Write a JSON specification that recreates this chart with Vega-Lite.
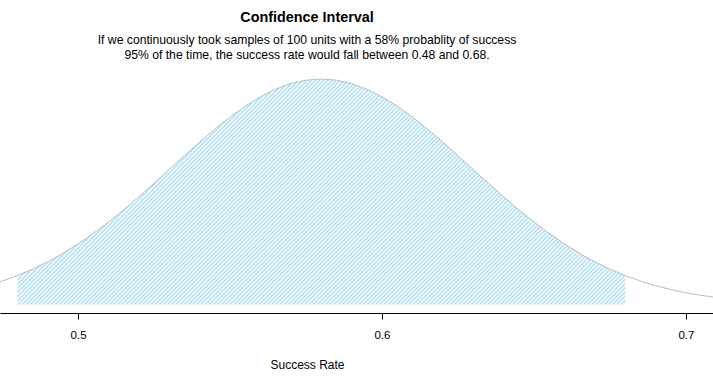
{
"$schema": "https://vega.github.io/schema/vega-lite/v6.json",
"width": 713, "height": 248,
"autosize": {"type": "none"},
"padding": {"left": 0, "right": 0, "top": 65, "bottom": 76},
"background": "white",
"config": {"view": {"stroke": null}, "font": "Liberation Sans"},
"title": {"text": "Confidence Interval", "subtitle": ["If we continuously took samples of 100 units with a 58% probablity of success", "95% of the time, the success rate would fall between 0.48 and 0.68."], "anchor": "middle", "dx": -49.5, "font": "Liberation Sans", "fontSize": 14.4, "fontWeight": "bold", "color": "black", "subtitleFont": "Liberation Sans", "subtitleFontSize": 12.2, "subtitleColor": "black", "subtitlePadding": 8, "subtitleLineHeight": 15, "offset": 3},
"data": {"values": [
{"x":0.470,"d":0.6745},{"x":0.475,"d":0.8410},{"x":0.480,"d":1.0378},{"x":0.485,"d":1.2680},{"x":0.490,"d":1.5331},{"x":0.495,"d":1.8348},{"x":0.500,"d":2.1730},{"x":0.505,"d":2.5476},{"x":0.510,"d":2.9564},{"x":0.515,"d":3.3960},{"x":0.520,"d":3.8607},{"x":0.525,"d":4.3443},{"x":0.530,"d":4.8387},{"x":0.535,"d":5.3341},{"x":0.540,"d":5.8202},{"x":0.545,"d":6.2858},{"x":0.550,"d":6.7197},{"x":0.555,"d":7.1098},{"x":0.560,"d":7.4459},{"x":0.565,"d":7.7182},{"x":0.570,"d":7.9187},{"x":0.575,"d":8.0416},{"x":0.580,"d":8.0830},{"x":0.585,"d":8.0416},{"x":0.590,"d":7.9187},{"x":0.595,"d":7.7182},{"x":0.600,"d":7.4459},{"x":0.605,"d":7.1098},{"x":0.610,"d":6.7197},{"x":0.615,"d":6.2858},{"x":0.620,"d":5.8202},{"x":0.625,"d":5.3341},{"x":0.630,"d":4.8387},{"x":0.635,"d":4.3443},{"x":0.640,"d":3.8607},{"x":0.645,"d":3.3960},{"x":0.650,"d":2.9564},{"x":0.655,"d":2.5476},{"x":0.660,"d":2.1730},{"x":0.665,"d":1.8348},{"x":0.670,"d":1.5331},{"x":0.675,"d":1.2680},{"x":0.680,"d":1.0378},{"x":0.685,"d":0.8410},{"x":0.690,"d":0.6745},{"x":0.695,"d":0.5355},{"x":0.700,"d":0.4207},{"x":0.705,"d":0.3272},{"x":0.710,"d":0.2519}
]},
"encoding": {
"x": {"field": "x", "type": "quantitative", "scale": {"domain": [0.4743, 0.7089], "nice": false, "zero": false},
 "axis": {"values": [0.5, 0.6, 0.7], "format": ".1f", "grid": false, "domainColor": "black", "domainWidth": 1, "tickColor": "black", "tickWidth": 1, "tickSize": 6, "labelPadding": 10, "labelFont": "Liberation Sans", "labelFontSize": 11.5, "labelColor": "black", "title": "Success Rate", "titleFont": "Liberation Sans", "titleFontSize": 12, "titleFontWeight": "normal", "titleColor": "black", "titleX": 307, "titleY": 51, "titleBaseline": "middle", "titleAnchor": "middle", "titleAlign": "center"}},
"y": {"field": "d", "type": "quantitative", "scale": {"domain": [-0.3047, 8.5848], "nice": false, "zero": false}, "axis": null}
},
"layer": [
{"transform": [{"filter": "datum.x > 0.4799 && datum.x < 0.6801"}],
 "mark": {"type": "area", "fill": {"gradient": "linear", "x1": 0, "y1": 0, "x2": 1.2049, "y2": 0.4439, "stops": [
{"offset":0.23,"color":"#abddf1"},{"offset":0.2325,"color":"#fff"},{"offset":0.235,"color":"#abddf1"},{"offset":0.2375,"color":"#fff"},
{"offset":0.24,"color":"#abddf1"},{"offset":0.2425,"color":"#fff"},{"offset":0.245,"color":"#abddf1"},{"offset":0.2475,"color":"#fff"},
{"offset":0.25,"color":"#abddf1"},{"offset":0.2525,"color":"#fff"},{"offset":0.255,"color":"#abddf1"},{"offset":0.2575,"color":"#fff"},
{"offset":0.26,"color":"#abddf1"},{"offset":0.2625,"color":"#fff"},{"offset":0.265,"color":"#abddf1"},{"offset":0.2675,"color":"#fff"},
{"offset":0.27,"color":"#abddf1"},{"offset":0.2725,"color":"#fff"},{"offset":0.275,"color":"#abddf1"},{"offset":0.2775,"color":"#fff"},
{"offset":0.28,"color":"#abddf1"},{"offset":0.2825,"color":"#fff"},{"offset":0.285,"color":"#abddf1"},{"offset":0.2875,"color":"#fff"},
{"offset":0.29,"color":"#abddf1"},{"offset":0.2925,"color":"#fff"},{"offset":0.295,"color":"#abddf1"},{"offset":0.2975,"color":"#fff"},
{"offset":0.30,"color":"#abddf1"},{"offset":0.3025,"color":"#fff"},{"offset":0.305,"color":"#abddf1"},{"offset":0.3075,"color":"#fff"},
{"offset":0.31,"color":"#abddf1"},{"offset":0.3125,"color":"#fff"},{"offset":0.315,"color":"#abddf1"},{"offset":0.3175,"color":"#fff"},
{"offset":0.32,"color":"#abddf1"},{"offset":0.3225,"color":"#fff"},{"offset":0.325,"color":"#abddf1"},{"offset":0.3275,"color":"#fff"},
{"offset":0.33,"color":"#abddf1"},{"offset":0.3325,"color":"#fff"},{"offset":0.335,"color":"#abddf1"},{"offset":0.3375,"color":"#fff"},
{"offset":0.34,"color":"#abddf1"},{"offset":0.3425,"color":"#fff"},{"offset":0.345,"color":"#abddf1"},{"offset":0.3475,"color":"#fff"},
{"offset":0.35,"color":"#abddf1"},{"offset":0.3525,"color":"#fff"},{"offset":0.355,"color":"#abddf1"},{"offset":0.3575,"color":"#fff"},
{"offset":0.36,"color":"#abddf1"},{"offset":0.3625,"color":"#fff"},{"offset":0.365,"color":"#abddf1"},{"offset":0.3675,"color":"#fff"},
{"offset":0.37,"color":"#abddf1"},{"offset":0.3725,"color":"#fff"},{"offset":0.375,"color":"#abddf1"},{"offset":0.3775,"color":"#fff"},
{"offset":0.38,"color":"#abddf1"},{"offset":0.3825,"color":"#fff"},{"offset":0.385,"color":"#abddf1"},{"offset":0.3875,"color":"#fff"},
{"offset":0.39,"color":"#abddf1"},{"offset":0.3925,"color":"#fff"},{"offset":0.395,"color":"#abddf1"},{"offset":0.3975,"color":"#fff"},
{"offset":0.40,"color":"#abddf1"},{"offset":0.4025,"color":"#fff"},{"offset":0.405,"color":"#abddf1"},{"offset":0.4075,"color":"#fff"},
{"offset":0.41,"color":"#abddf1"},{"offset":0.4125,"color":"#fff"},{"offset":0.415,"color":"#abddf1"},{"offset":0.4175,"color":"#fff"},
{"offset":0.42,"color":"#abddf1"},{"offset":0.4225,"color":"#fff"},{"offset":0.425,"color":"#abddf1"},{"offset":0.4275,"color":"#fff"},
{"offset":0.43,"color":"#abddf1"},{"offset":0.4325,"color":"#fff"},{"offset":0.435,"color":"#abddf1"},{"offset":0.4375,"color":"#fff"},
{"offset":0.44,"color":"#abddf1"},{"offset":0.4425,"color":"#fff"},{"offset":0.445,"color":"#abddf1"},{"offset":0.4475,"color":"#fff"},
{"offset":0.45,"color":"#abddf1"},{"offset":0.4525,"color":"#fff"},{"offset":0.455,"color":"#abddf1"},{"offset":0.4575,"color":"#fff"},
{"offset":0.46,"color":"#abddf1"},{"offset":0.4625,"color":"#fff"},{"offset":0.465,"color":"#abddf1"},{"offset":0.4675,"color":"#fff"},
{"offset":0.47,"color":"#abddf1"},{"offset":0.4725,"color":"#fff"},{"offset":0.475,"color":"#abddf1"},{"offset":0.4775,"color":"#fff"},
{"offset":0.48,"color":"#abddf1"},{"offset":0.4825,"color":"#fff"},{"offset":0.485,"color":"#abddf1"},{"offset":0.4875,"color":"#fff"},
{"offset":0.49,"color":"#abddf1"},{"offset":0.4925,"color":"#fff"},{"offset":0.495,"color":"#abddf1"},{"offset":0.4975,"color":"#fff"},
{"offset":0.50,"color":"#abddf1"},{"offset":0.5025,"color":"#fff"},{"offset":0.505,"color":"#abddf1"},{"offset":0.5075,"color":"#fff"},
{"offset":0.51,"color":"#abddf1"},{"offset":0.5125,"color":"#fff"},{"offset":0.515,"color":"#abddf1"},{"offset":0.5175,"color":"#fff"},
{"offset":0.52,"color":"#abddf1"},{"offset":0.5225,"color":"#fff"},{"offset":0.525,"color":"#abddf1"},{"offset":0.5275,"color":"#fff"},
{"offset":0.53,"color":"#abddf1"},{"offset":0.5325,"color":"#fff"},{"offset":0.535,"color":"#abddf1"},{"offset":0.5375,"color":"#fff"},
{"offset":0.54,"color":"#abddf1"},{"offset":0.5425,"color":"#fff"},{"offset":0.545,"color":"#abddf1"},{"offset":0.5475,"color":"#fff"},
{"offset":0.55,"color":"#abddf1"},{"offset":0.5525,"color":"#fff"},{"offset":0.555,"color":"#abddf1"},{"offset":0.5575,"color":"#fff"},
{"offset":0.56,"color":"#abddf1"},{"offset":0.5625,"color":"#fff"},{"offset":0.565,"color":"#abddf1"},{"offset":0.5675,"color":"#fff"},
{"offset":0.57,"color":"#abddf1"},{"offset":0.5725,"color":"#fff"},{"offset":0.575,"color":"#abddf1"},{"offset":0.5775,"color":"#fff"},
{"offset":0.58,"color":"#abddf1"},{"offset":0.5825,"color":"#fff"},{"offset":0.585,"color":"#abddf1"},{"offset":0.5875,"color":"#fff"},
{"offset":0.59,"color":"#abddf1"},{"offset":0.5925,"color":"#fff"},{"offset":0.595,"color":"#abddf1"},{"offset":0.5975,"color":"#fff"},
{"offset":0.60,"color":"#abddf1"},{"offset":0.6025,"color":"#fff"},{"offset":0.605,"color":"#abddf1"},{"offset":0.6075,"color":"#fff"},
{"offset":0.61,"color":"#abddf1"},{"offset":0.6125,"color":"#fff"},{"offset":0.615,"color":"#abddf1"},{"offset":0.6175,"color":"#fff"},
{"offset":0.62,"color":"#abddf1"},{"offset":0.6225,"color":"#fff"},{"offset":0.625,"color":"#abddf1"},{"offset":0.6275,"color":"#fff"},
{"offset":0.63,"color":"#abddf1"},{"offset":0.6325,"color":"#fff"},{"offset":0.635,"color":"#abddf1"},{"offset":0.6375,"color":"#fff"},
{"offset":0.64,"color":"#abddf1"},{"offset":0.6425,"color":"#fff"},{"offset":0.645,"color":"#abddf1"},{"offset":0.6475,"color":"#fff"},
{"offset":0.65,"color":"#abddf1"},{"offset":0.6525,"color":"#fff"},{"offset":0.655,"color":"#abddf1"},{"offset":0.6575,"color":"#fff"},
{"offset":0.66,"color":"#abddf1"},{"offset":0.6625,"color":"#fff"},{"offset":0.665,"color":"#abddf1"},{"offset":0.6675,"color":"#fff"},
{"offset":0.67,"color":"#abddf1"},{"offset":0.6725,"color":"#fff"},{"offset":0.675,"color":"#abddf1"},{"offset":0.6775,"color":"#fff"},
{"offset":0.68,"color":"#abddf1"},{"offset":0.6825,"color":"#fff"},{"offset":0.685,"color":"#abddf1"},{"offset":0.6875,"color":"#fff"},
{"offset":0.69,"color":"#abddf1"},{"offset":0.6925,"color":"#fff"},{"offset":0.695,"color":"#abddf1"},{"offset":0.6975,"color":"#fff"},
{"offset":0.70,"color":"#abddf1"},{"offset":0.7025,"color":"#fff"},{"offset":0.705,"color":"#abddf1"},{"offset":0.7075,"color":"#fff"},
{"offset":0.71,"color":"#abddf1"},{"offset":0.7125,"color":"#fff"},{"offset":0.715,"color":"#abddf1"},{"offset":0.7175,"color":"#fff"},
{"offset":0.72,"color":"#abddf1"},{"offset":0.7225,"color":"#fff"},{"offset":0.725,"color":"#abddf1"},{"offset":0.7275,"color":"#fff"},
{"offset":0.73,"color":"#abddf1"},{"offset":0.7325,"color":"#fff"},{"offset":0.735,"color":"#abddf1"},{"offset":0.7375,"color":"#fff"},
{"offset":0.74,"color":"#abddf1"},{"offset":0.7425,"color":"#fff"},{"offset":0.745,"color":"#abddf1"},{"offset":0.7475,"color":"#fff"},
{"offset":0.75,"color":"#abddf1"},{"offset":0.7525,"color":"#fff"},{"offset":0.755,"color":"#abddf1"},{"offset":0.7575,"color":"#fff"},
{"offset":0.76,"color":"#abddf1"},{"offset":0.7625,"color":"#fff"},{"offset":0.765,"color":"#abddf1"},{"offset":0.7675,"color":"#fff"},
{"offset":0.77,"color":"#abddf1"},{"offset":0.7725,"color":"#fff"},{"offset":0.775,"color":"#abddf1"},{"offset":0.7775,"color":"#fff"},
{"offset":0.78,"color":"#abddf1"},{"offset":0.7825,"color":"#fff"},{"offset":0.785,"color":"#abddf1"},{"offset":0.7875,"color":"#fff"},
{"offset":0.79,"color":"#abddf1"},{"offset":0.7925,"color":"#fff"},{"offset":0.795,"color":"#abddf1"},{"offset":0.7975,"color":"#fff"},
{"offset":0.80,"color":"#abddf1"},{"offset":0.8025,"color":"#fff"},{"offset":0.805,"color":"#abddf1"},{"offset":0.8075,"color":"#fff"},
{"offset":0.81,"color":"#abddf1"},{"offset":0.8125,"color":"#fff"},{"offset":0.815,"color":"#abddf1"},{"offset":0.8175,"color":"#fff"},
{"offset":0.82,"color":"#abddf1"},{"offset":0.8225,"color":"#fff"},{"offset":0.825,"color":"#abddf1"},{"offset":0.8275,"color":"#fff"},
{"offset":0.83,"color":"#abddf1"},{"offset":0.8325,"color":"#fff"},{"offset":0.835,"color":"#abddf1"},{"offset":0.8375,"color":"#fff"},
{"offset":0.84,"color":"#abddf1"},{"offset":0.8425,"color":"#fff"},{"offset":0.845,"color":"#abddf1"},{"offset":0.8475,"color":"#fff"},
{"offset":0.85,"color":"#abddf1"},{"offset":0.8525,"color":"#fff"},{"offset":0.855,"color":"#abddf1"},{"offset":0.8575,"color":"#fff"},
{"offset":0.86,"color":"#abddf1"},{"offset":0.8625,"color":"#fff"},{"offset":0.865,"color":"#abddf1"},{"offset":0.8675,"color":"#fff"},
{"offset":0.87,"color":"#abddf1"},{"offset":0.8725,"color":"#fff"},{"offset":0.875,"color":"#abddf1"},{"offset":0.8775,"color":"#fff"},
{"offset":0.88,"color":"#abddf1"},{"offset":0.8825,"color":"#fff"},{"offset":0.885,"color":"#abddf1"},{"offset":0.8875,"color":"#fff"},
{"offset":0.89,"color":"#abddf1"},{"offset":0.8925,"color":"#fff"},{"offset":0.895,"color":"#abddf1"},{"offset":0.8975,"color":"#fff"},
{"offset":0.90,"color":"#abddf1"},{"offset":0.9025,"color":"#fff"},{"offset":0.905,"color":"#abddf1"},{"offset":0.9075,"color":"#fff"},
{"offset":0.91,"color":"#abddf1"},{"offset":0.9125,"color":"#fff"},{"offset":0.915,"color":"#abddf1"},{"offset":0.9175,"color":"#fff"},
{"offset":0.92,"color":"#abddf1"},{"offset":0.9225,"color":"#fff"},{"offset":0.925,"color":"#abddf1"},{"offset":0.9275,"color":"#fff"},
{"offset":0.93,"color":"#abddf1"},{"offset":0.9325,"color":"#fff"},{"offset":0.935,"color":"#abddf1"},{"offset":0.9375,"color":"#fff"},
{"offset":0.94,"color":"#abddf1"},{"offset":0.9425,"color":"#fff"},{"offset":0.945,"color":"#abddf1"},{"offset":0.9475,"color":"#fff"},
{"offset":0.95,"color":"#abddf1"},{"offset":0.9525,"color":"#fff"},{"offset":0.955,"color":"#abddf1"},{"offset":0.9575,"color":"#fff"},
{"offset":0.96,"color":"#abddf1"},{"offset":0.9625,"color":"#fff"},{"offset":0.965,"color":"#abddf1"},{"offset":0.9675,"color":"#fff"},
{"offset":0.97,"color":"#abddf1"},{"offset":0.9725,"color":"#fff"},{"offset":0.975,"color":"#abddf1"},{"offset":0.9775,"color":"#fff"},
{"offset":0.98,"color":"#abddf1"},{"offset":0.9825,"color":"#fff"},{"offset":0.985,"color":"#abddf1"},{"offset":0.9875,"color":"#fff"},
{"offset":0.99,"color":"#abddf1"},{"offset":0.9925,"color":"#fff"},{"offset":0.995,"color":"#abddf1"},{"offset":0.9975,"color":"#fff"},
{"offset":1,"color":"#abddf1"}
 ]}},
 "encoding": {"y2": {"datum": 0}}},
{"mark": {"type": "line", "color": "#bdbdbd", "strokeWidth": 1, "clip": true}}
]
}
